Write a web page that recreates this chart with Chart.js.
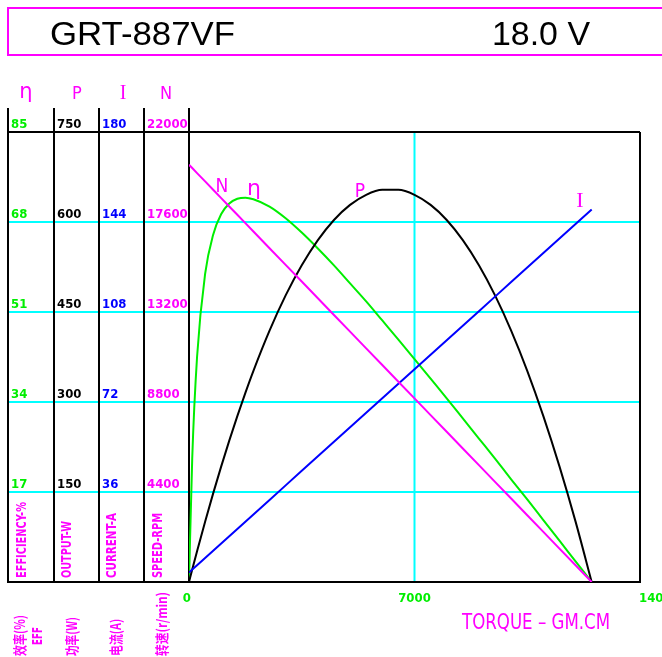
<!DOCTYPE html>
<html>
<head>
<meta charset="utf-8">
<script src="https://cdn.jsdelivr.net/npm/chart.js@4.4.1/dist/chart.umd.min.js"></script>
<style>
  html, body { margin: 0; padding: 0; background: #fff; }
  #wrap { width: 662px; height: 657px; position: relative; }
</style>
</head>
<body>
<div id="wrap"><canvas id="grafico"></canvas></div>
<script>
// torque (gm.cm) e curvas
const torque = [0, 100, 250, 500, 750, 1000, 1250, 1500, 1750, 2000, 2500, 3000, 3500, 4000, 4500, 5000, 5500, 6000, 6500, 7000, 7500, 8000, 8500, 9000, 9500, 10000, 10500, 11000, 11500, 12000, 12500];
const speed = [20400, 20237, 19992, 19584, 19176, 18768, 18360, 17952, 17544, 17136, 16320, 15504, 14688, 13872, 13056, 12240, 11424, 10608, 9792, 8976, 8160, 7344, 6528, 5712, 4896, 4080, 3264, 2448, 1632, 816, 0];
const power = [0, 20.8, 51.3, 100.6, 147.7, 192.7, 235.7, 276.5, 315.3, 352.0, 419.0, 477.7, 527.9, 569.8, 603.4, 628.5, 645.3, 653.6, 653.6, 645.3, 628.5, 603.4, 569.8, 527.9, 477.7, 419.0, 352.0, 276.5, 192.7, 100.6, 0];
const current = [3.8, 4.96, 6.7, 9.61, 12.51, 15.42, 18.32, 21.22, 24.13, 27.03, 32.84, 38.65, 44.46, 50.26, 56.07, 61.88, 67.69, 73.5, 79.3, 85.11, 90.92, 96.73, 102.54, 108.34, 114.15, 119.96, 125.77, 131.58, 137.38, 143.19, 149.0];
const efficiency = [0, 23.3, 42.5, 58.2, 65.6, 69.5, 71.5, 72.4, 72.6, 72.3, 70.9, 68.7, 66.0, 63.0, 59.8, 56.4, 53.0, 49.4, 45.8, 42.1, 38.4, 34.7, 30.9, 27.1, 23.3, 19.4, 15.6, 11.7, 7.8, 3.9, 0];

// escalas (ticks)
const xTicks = [0, 7000, 14000];
const xLabels = ["0", "7000", "14000"];
const effTicks = [17, 34, 51, 68, 85];
const powerTicks = [150, 300, 450, 600, 750];
const currentTicks = [36, 72, 108, 144, 180];
const speedTicks = [4400, 8800, 13200, 17600, 22000];

const VERDE = "#00ee00", AZUL = "#0000ff", MAGENTA = "#ff00ff", CIANO = "#00ffff";

function pts(ys) {
  return torque.map((t, i) => ({ x: t, y: ys[i] }));
}

function txt(ctx, s, x, y, o) {
  ctx.save();
  ctx.font = o.font;
  ctx.fillStyle = o.color;
  ctx.textAlign = o.align || "left";
  ctx.textBaseline = o.base || "alphabetic";
  ctx.translate(x, y);
  if (o.rot) ctx.rotate(o.rot);
  if (o.w) {
    const m = ctx.measureText(s).width;
    ctx.scale(o.w / m, 1);
  }
  ctx.fillText(s, 0, 0);
  ctx.restore();
}

function linha(ctx, x1, y1, x2, y2, cor, lw) {
  ctx.beginPath();
  ctx.strokeStyle = cor;
  ctx.lineWidth = lw;
  ctx.moveTo(x1, y1);
  ctx.lineTo(x2, y2);
  ctx.stroke();
}

const moldura = {
  id: "moldura",
  beforeDatasetsDraw(chart) {
    const ctx = chart.ctx;
    const a = chart.chartArea;
    const sx = chart.scales.x, se = chart.scales.yEff;
    ctx.save();

    // cabecalho
    ctx.strokeStyle = MAGENTA;
    ctx.lineWidth = 2;
    ctx.strokeRect(8, 8, 660, 47);
    txt(ctx, "GRT-887VF", 50, 45, { font: "34px 'Liberation Sans'", color: "#000", w: 185 });
    txt(ctx, "18.0 V", 492, 45, { font: "34px 'Liberation Sans'", color: "#000", w: 98 });

    // grade ciano
    effTicks.slice(0, 4).forEach(v => {
      const y = se.getPixelForValue(v);
      linha(ctx, 8, y, a.right, y, CIANO, 2);
    });
    const x7 = sx.getPixelForValue(7000);
    linha(ctx, x7, a.top, x7, a.bottom, CIANO, 2);

    // moldura preta
    [8, 54, 99, 144, a.left].forEach(x => linha(ctx, x, 108, x, a.bottom + 1, "#000", 2));
    linha(ctx, 8, a.top, a.right, a.top, "#000", 2);
    linha(ctx, 7, a.bottom, a.right + 1, a.bottom, "#000", 2);
    linha(ctx, a.right, a.top, a.right, a.bottom, "#000", 2);

    // cabecalhos das colunas
    txt(ctx, "\u03b7", 26, 98, { font: "21px 'DejaVu Sans'", color: MAGENTA, align: "center" });
    txt(ctx, "P", 77, 99, { font: "18px 'DejaVu Sans Condensed'", color: MAGENTA, align: "center" });
    txt(ctx, "I", 123, 99, { font: "20px 'Liberation Serif'", color: MAGENTA, align: "center" });
    txt(ctx, "N", 166, 99, { font: "18px 'DejaVu Sans Condensed'", color: MAGENTA, align: "center" });

    // valores das colunas
    const f = "bold 13px 'DejaVu Sans Condensed'";
    effTicks.forEach((v, i) => {
      const y = se.getPixelForValue(v) - 4;
      txt(ctx, String(v), 11, y, { font: f, color: VERDE });
      txt(ctx, String(powerTicks[i]), 57, y, { font: f, color: "#000" });
      txt(ctx, String(currentTicks[i]), 102, y, { font: f, color: AZUL });
      txt(ctx, String(speedTicks[i]), 147, y, { font: f, color: MAGENTA });
    });

    // rotulos verticais
    const rot = -Math.PI / 2;
    const fv = "bold 14px 'DejaVu Sans Condensed'";
    txt(ctx, "EFFICIENCY-%", 22, 578, { font: fv, color: MAGENTA, rot, base: "middle", w: 76 });
    txt(ctx, "OUTPUT-W", 67, 578, { font: fv, color: MAGENTA, rot, base: "middle", w: 57 });
    txt(ctx, "CURRENT-A", 112, 578, { font: fv, color: MAGENTA, rot, base: "middle", w: 65 });
    txt(ctx, "SPEED-RPM", 158, 578, { font: fv, color: MAGENTA, rot, base: "middle", w: 65 });

    const fc = "bold 14px 'Noto Sans CJK SC'";
    txt(ctx, "效率(%)", 20, 656, { font: fc, color: MAGENTA, rot, base: "middle", w: 41 });
    txt(ctx, "EFF", 38, 645, { font: "bold 14px 'DejaVu Sans'", color: MAGENTA, rot, base: "middle", w: 18 });
    txt(ctx, "功率(W)", 72, 656, { font: fc, color: MAGENTA, rot, base: "middle", w: 39 });
    txt(ctx, "电流(A)", 116, 656, { font: fc, color: MAGENTA, rot, base: "middle", w: 37 });
    txt(ctx, "转速(r/min)", 162, 656, { font: fc, color: MAGENTA, rot, base: "middle", w: 64 });

    // eixo x
    xTicks.forEach((v, i) => {
      const x = sx.getPixelForValue(v);
      const al = i === 0 ? "right" : i === 2 ? "left" : "center";
      txt(ctx, xLabels[i], i === 0 ? x + 2 : i === 2 ? x - 1 : x, 602, { font: f, color: VERDE, align: al });
    });
    txt(ctx, "TORQUE \u2013 GM.CM", 462, 629, { font: "21px 'DejaVu Sans Condensed'", color: MAGENTA, w: 148 });

    // nomes das curvas
    txt(ctx, "N", 222, 192, { font: "19px 'DejaVu Sans Condensed'", color: MAGENTA, align: "center" });
    txt(ctx, "\u03b7", 254, 195, { font: "22px 'DejaVu Sans'", color: MAGENTA, align: "center" });
    txt(ctx, "P", 360, 197, { font: "19px 'DejaVu Sans Condensed'", color: MAGENTA, align: "center" });
    txt(ctx, "I", 580, 207, { font: "22px 'Liberation Serif'", color: MAGENTA, align: "center" });

    ctx.restore();
  }
};

const ctx = document.getElementById("grafico").getContext("2d");

new Chart(ctx, {
  type: "line",
  data: {
    datasets: [
      { label: "N", data: pts(speed), yAxisID: "yN", borderColor: MAGENTA, borderWidth: 2, pointRadius: 0, tension: 0 },
      { label: "I", data: pts(current), yAxisID: "yI", borderColor: AZUL, borderWidth: 2, pointRadius: 0, tension: 0 },
      { label: "P", data: pts(power), yAxisID: "yP", borderColor: "#000", borderWidth: 2, pointRadius: 0, cubicInterpolationMode: "monotone" },
      { label: "Eff", data: pts(efficiency), yAxisID: "yEff", borderColor: VERDE, borderWidth: 2, pointRadius: 0, cubicInterpolationMode: "monotone" },
    ],
  },
  options: {
    responsive: true,
    maintainAspectRatio: false,
    animation: false,
    layout: { padding: { left: 189, right: 22, top: 132, bottom: 75 } },
    scales: {
      x: { type: "linear", min: 0, max: 14000, display: false },
      yEff: { type: "linear", min: 0, max: 85, display: false },
      yP: { type: "linear", min: 0, max: 750, display: false },
      yI: { type: "linear", min: 0, max: 180, display: false },
      yN: { type: "linear", min: 0, max: 22000, display: false },
    },
    plugins: {
      legend: { display: false },
      tooltip: { enabled: false },
    },
  },
  plugins: [moldura],
});
</script>
</body>
</html>
